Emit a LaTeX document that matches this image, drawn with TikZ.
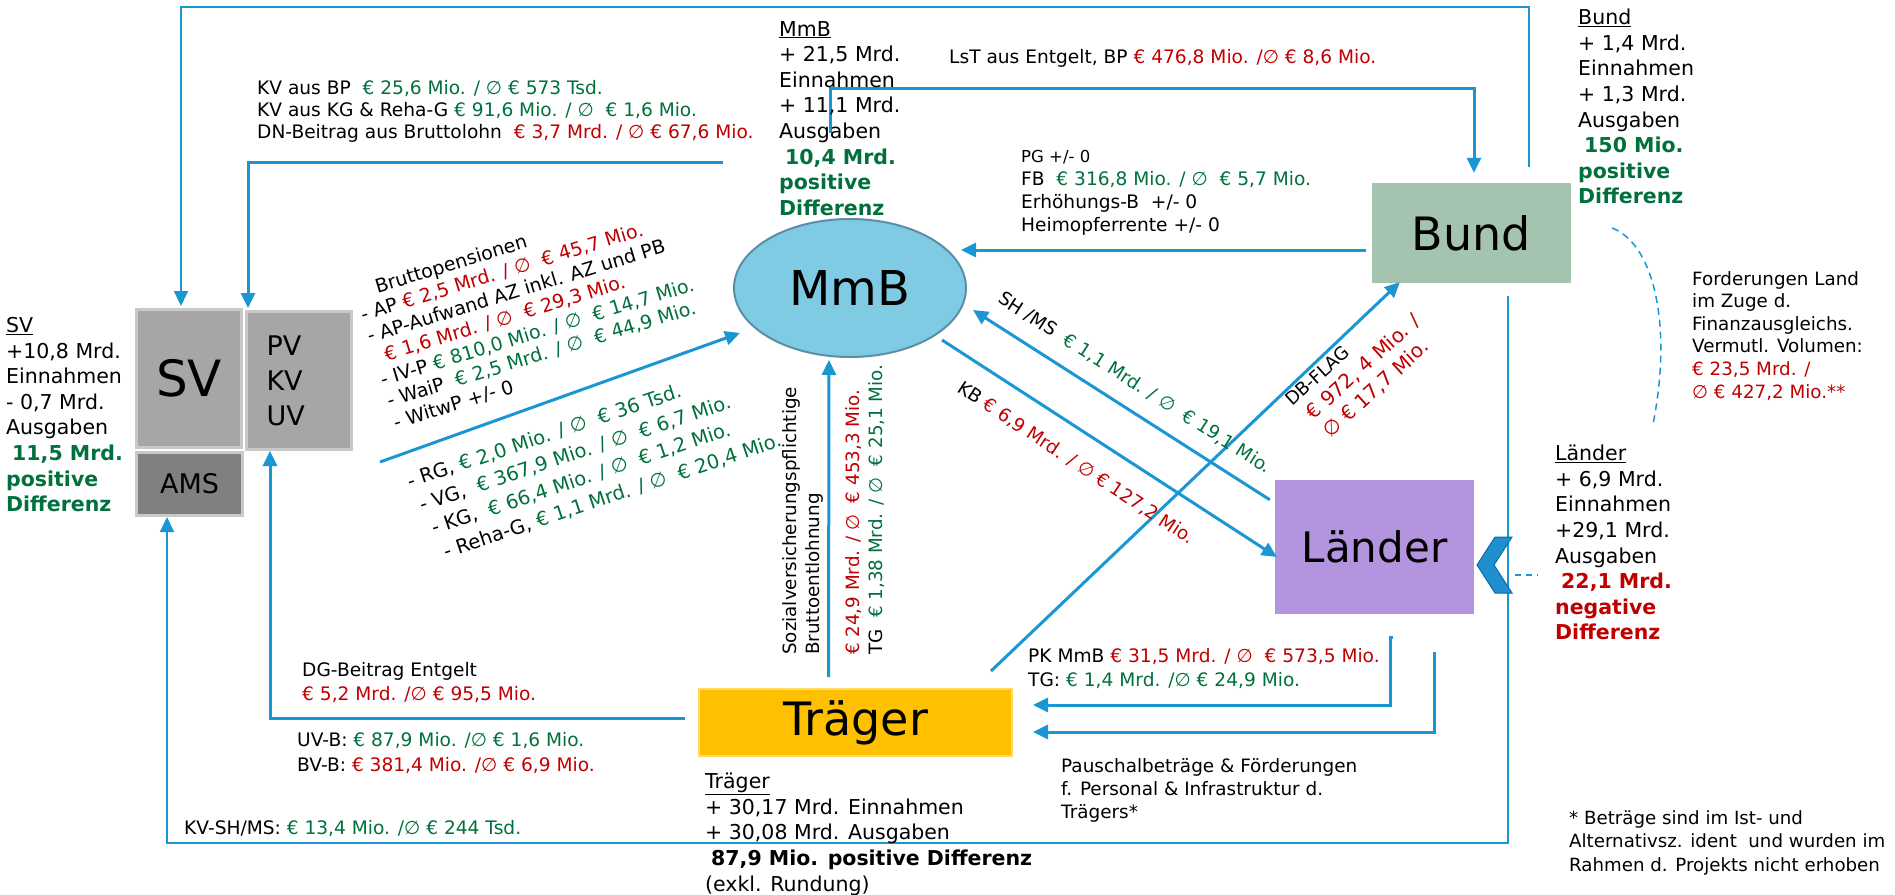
\documentclass[tikz,border=0pt]{standalone}
\usepackage{fontspec}
\setmainfont{DejaVu Sans}
\usetikzlibrary{arrows.meta,shapes.geometric}
\definecolor{lblue}{HTML}{1B96D4}
\definecolor{grn}{HTML}{00703C}
\definecolor{rd}{HTML}{C00000}
\definecolor{svgray}{HTML}{A6A6A6}
\definecolor{amsgray}{HTML}{808080}
\definecolor{boxline}{HTML}{C9C9C9}
\definecolor{mmbfill}{HTML}{7FCBE4}
\definecolor{mmbline}{HTML}{5B8FA8}
\definecolor{bundfill}{HTML}{A5C4AF}
\definecolor{laenderfill}{HTML}{B394DE}
\definecolor{traegerfill}{HTML}{FFC000}
\definecolor{traegerline}{HTML}{FFDA6B}
\definecolor{chevfill}{HTML}{1E90CF}
\definecolor{chevline}{HTML}{0A6BA5}
\newcommand\gtx[1]{\textcolor{grn}{#1}}
\newcommand\rtx[1]{\textcolor{rd}{#1}}
\newcommand\gbf[1]{\textbf{\textcolor{grn}{#1}}}
\newcommand\rbf[1]{\textbf{\textcolor{rd}{#1}}}

\begin{document}
\begin{tikzpicture}[x=1pt,y=-1pt,>={Triangle[length=15pt,width=14pt]},
  flow/.style={->,draw=lblue,line width=3pt},
  thinflow/.style={->,draw=lblue,line width=1.8pt},
  txt/.style={anchor=north west,inner sep=0pt,align=left,font=\fontsize{18.6}{23}\selectfont},
  sumtxt/.style={anchor=north west,inner sep=0pt,align=left,font=\fontsize{20.5}{25.6}\selectfont},
  entity/.style={inner sep=0pt,font=\fontsize{46}{50}\selectfont}]
\useasboundingbox (0,0) rectangle (1895,894);

% Akteure
\node[entity,fill=svgray,draw=boxline,line width=3pt,minimum width=105pt,minimum height=138pt,font=\fontsize{50}{50}\selectfont] (sv) at (189,378.5) {SV};
\node[entity,fill=svgray,draw=boxline,line width=3pt,minimum width=105pt,minimum height=138pt,text width=65pt,align=left,font=\fontsize{27}{35}\selectfont] (pv) at (299,380.5) {PV\\KV\\UV};
\node[entity,fill=amsgray,draw=boxline,line width=3pt,minimum width=106pt,minimum height=63pt,font=\fontsize{27}{30}\selectfont] (ams) at (189.5,484) {AMS};
\node[entity,ellipse,fill=mmbfill,draw=mmbline,line width=2pt,minimum width=232pt,minimum height=138pt,font=\fontsize{48}{50}\selectfont] (mmb) at (850,288) {MmB};
\node[entity,fill=bundfill,minimum width=199pt,minimum height=100pt] (bund) at (1471.5,233) {Bund};
\node[entity,fill=laenderfill,minimum width=199pt,minimum height=134pt,font=\fontsize{42}{46}\selectfont] (laender) at (1374.5,547) {Länder};
\node[entity,fill=traegerfill,draw=traegerline,line width=2pt,minimum width=313pt,minimum height=67pt] (traeger) at (855.5,722.5) {Träger};

% Verbindungen
\draw[thinflow] ([shift={(57.5,-16)}]bund.north) -- ++(0,-160) -| ([xshift=-8pt,yshift=2pt]sv.north);
\draw[flow] ([shift={(-127,-126)}]mmb.center) -| ([xshift=-51pt,yshift=2pt]pv.north);
\draw[flow] ([shift={(-20,-155)}]mmb.center) -- ++(0,-45) -| ([xshift=2.5pt,yshift=10pt]bund.north);
\draw[flow] ([shift={(-6,17)}]bund.west) -- ([shift={(111,-38)}]mmb.center);
\draw[flow] ([shift={(27,11)}]pv.south east) -- ([shift={(-110,45)}]mmb.center);
\draw[flow] ([shift={(-27,-11)}]traeger.north) -- ([shift={(-21,72)}]mmb.center);
\draw[flow] ([shift={(-5,20)}]laender.north west) -- ([shift={(123,22)}]mmb.center);
\draw[flow] ([shift={(92,52)}]mmb.center) -- ([shift={(2,10)}]laender.west);
\draw[flow] ([shift={(-22,-17)}]traeger.north east) -- ([shift={(28,-1)}]bund.south west);
\draw[flow] ([shift={(-13,-4)}]traeger.west) -| ([xshift=-29pt]pv.south);
\draw[thinflow] ([shift={(36.5,13)}]bund.south) -- ++(0,547) -| ([xshift=-22.5pt]ams.south);
\draw[flow] ([shift={(380,-85.5)}]traeger.east) -- ++(-3,0) -- ++(0,68) -- ([shift={(20,-17.5)}]traeger.east);
\draw[flow] ([shift={(421,-70.5)}]traeger.east) |- ([shift={(20,9.5)}]traeger.east);
\draw[lblue,line width=1.5pt,dash pattern=on 7pt off 5pt] ([shift={(41,-5)}]bund.east) .. controls +(45,18) and +(18,-90) .. ([shift={(82,190)}]bund.east);
\draw[fill=chevfill,draw=chevline,line width=1pt] (1477,565) -- (1495,537) -- (1512,537) -- (1494,565) -- (1512,593) -- (1495,593) -- cycle;
\draw[lblue,line width=1.5pt,dash pattern=on 6pt off 5pt] (1515,575) -- (1538,575);

% Beschriftungen
\node[txt,font=\fontsize{18.6}{22}\selectfont] (kvbp) at (257,80) {KV aus BP \ \gtx{€ 25,6 Mio. / ∅ € 573 Tsd.}\\KV aus KG \& Reha-G \gtx{€ 91,6 Mio. / ∅ \ € 1,6 Mio.}\\DN-Beitrag aus Bruttolohn \ \rtx{€ 3,7 Mrd. / ∅ € 67,6 Mio.}};
\node[sumtxt] (mmbsum) at (779,21) {\underline{MmB}\\+ 21,5 Mrd.\\Einnahmen\\+ 11,1 Mrd.\\Ausgaben\\\hspace*{6pt}\gbf{10,4 Mrd.}\\\gbf{positive}\\\gbf{Differenz}};
\node[txt] (lst) at (949,49) {LsT aus Entgelt, BP \rtx{€ 476,8 Mio. /∅ € 8,6 Mio.}};
\node[txt] (pg) at (1021,150) {{\fontsize{16.5}{23}\selectfont PG +/- 0}\\FB \ \gtx{€ 316,8 Mio. / ∅ \ € 5,7 Mio.}\\Erhöhungs-B \ +/- 0\\Heimopferrente +/- 0};
\node[sumtxt] (bundsum) at (1578,9) {\underline{Bund}\\+ 1,4 Mrd.\\Einnahmen\\+ 1,3 Mrd.\\Ausgaben\\\hspace*{6pt}\gbf{150 Mio.}\\\gbf{positive}\\\gbf{Differenz}};
\node[txt,font=\fontsize{18.3}{22.6}\selectfont] (ford) at (1692,271) {Forderungen Land\\im Zuge d.\\Finanzausgleichs.\\Vermutl. Volumen:\\\rtx{€ 23,5 Mrd. /}\\\rtx{∅ € 427,2 Mio.**}};
\node[sumtxt] (laendersum) at (1555,445) {\underline{Länder}\\+ 6,9 Mrd.\\Einnahmen\\+29,1 Mrd.\\Ausgaben\\\hspace*{6pt}\rbf{22,1 Mrd.}\\\rbf{negative}\\\rbf{Differenz}};
\node[txt,font=\fontsize{18.2}{23.5}\selectfont] (fussnote) at (1569,810) {* Beträge sind im Ist- und\\Alternativsz. ident \ und wurden im\\Rahmen d. Projekts nicht erhoben};
\node[txt,font=\fontsize{18.4}{23}\selectfont] (pausch) at (1061,758) {Pauschalbeträge \& Förderungen\\f. Personal \& Infrastruktur d.\\Trägers*};
\node[txt,font=\fontsize{18.6}{24}\selectfont] (pk) at (1028,648) {PK MmB \rtx{€ 31,5 Mrd. / ∅ \ € 573,5 Mio.}\\TG: \gtx{€ 1,4 Mrd. /∅ € 24,9 Mio.}};
\node[sumtxt] (traegersum) at (705,773) {\underline{Träger}\\+ 30,17 Mrd. Einnahmen\\+ 30,08 Mrd. Ausgaben\\\hspace*{6pt}\textbf{87,9 Mio. positive Differenz}\\(exkl. Rundung)};
\node[txt] (kvsh) at (184,820) {KV-SH/MS: \gtx{€ 13,4 Mio. /∅ € 244 Tsd.}};
\node[txt,font=\fontsize{18.6}{25}\selectfont] (uvb) at (297,732) {UV-B: \gtx{€ 87,9 Mio. /∅ € 1,6 Mio.}\\BV-B: \rtx{€ 381,4 Mio. /∅ € 6,9 Mio.}};
\node[txt,font=\fontsize{18.6}{24}\selectfont] (dg) at (302,662) {DG-Beitrag Entgelt\\\rtx{€ 5,2 Mrd. /∅ € 95,5 Mio.}};
\node[sumtxt] (svsum) at (6,317) {\underline{SV}\\+10,8 Mrd.\\Einnahmen\\- 0,7 Mrd.\\Ausgaben\\\hspace*{6pt}\gbf{11,5 Mrd.}\\\gbf{positive}\\\gbf{Differenz}};

\node[txt,rotate=17,font=\fontsize{19}{22.5}\selectfont] (bp) at (352,286) {\hspace*{22pt}Bruttopensionen\\- AP \rtx{€ 2,5 Mrd. / ∅ \ € 45,7 Mio.}\\- AP-Aufwand AZ inkl. AZ und PB\\\hspace*{11pt}\rtx{€ 1,6 Mrd. / ∅ \ € 29,3 Mio.}\\- IV-P \gtx{€ 810,0 Mio. / ∅ \ € 14,7 Mio.}\\- WaiP \ \gtx{€ 2,5 Mrd. / ∅ \ € 44,9 Mio.}\\- WitwP +/- 0};
\node[txt,rotate=18.5,font=\fontsize{19.5}{26}\selectfont] (rg) at (405,474) {- RG, \gtx{€ 2,0 Mio. / ∅ \ € 36 Tsd.}\\\hspace*{4pt}- VG, \ \gtx{€ 367,9 Mio. / ∅ \ € 6,7 Mio.}\\\hspace*{8pt}- KG, \ \gtx{€ 66,4 Mio. / ∅ \ € 1,2 Mio.}\\\hspace*{12pt}- Reha-G, \gtx{€ 1,1 Mrd. / ∅ \ € 20,4 Mio.}};
\node[inner sep=0pt,rotate=-32.6,font=\fontsize{18.4}{22}\selectfont] (shms) at (1135,383) {SH /MS \ \gtx{€ 1,1 Mrd. / ∅ \ € 19,1 Mio.}};
\node[inner sep=0pt,rotate=-33.4,font=\fontsize{18.4}{22}\selectfont] (kb) at (1076,463) {KB \rtx{€ 6,9 Mrd. / ∅ € 127,2 Mio.}};
\node[txt,rotate=42,font=\fontsize{18}{24.6}\selectfont] (db) at (1283,397) {DB-FLAG\\\hspace*{7pt}{\fontsize{20}{24.6}\selectfont\rtx{€ 972, 4 Mio. /}}\\\hspace*{7pt}{\fontsize{20}{24.6}\selectfont\rtx{∅ € 17,7 Mio.}}};
\node[txt,rotate=90,font=\fontsize{18.3}{23}\selectfont] (sozi) at (782,655) {Sozialversicherungspflichtige\\Bruttoentlohnung};
\node[txt,rotate=90,font=\fontsize{18.3}{23}\selectfont] (tg) at (845,655) {\rtx{€ 24,9 Mrd. / ∅ \ € 453,3 Mio.}\\TG \ \gtx{€ 1,38 Mrd. / ∅ \ € 25,1 Mio.}};
\end{tikzpicture}
\end{document}
